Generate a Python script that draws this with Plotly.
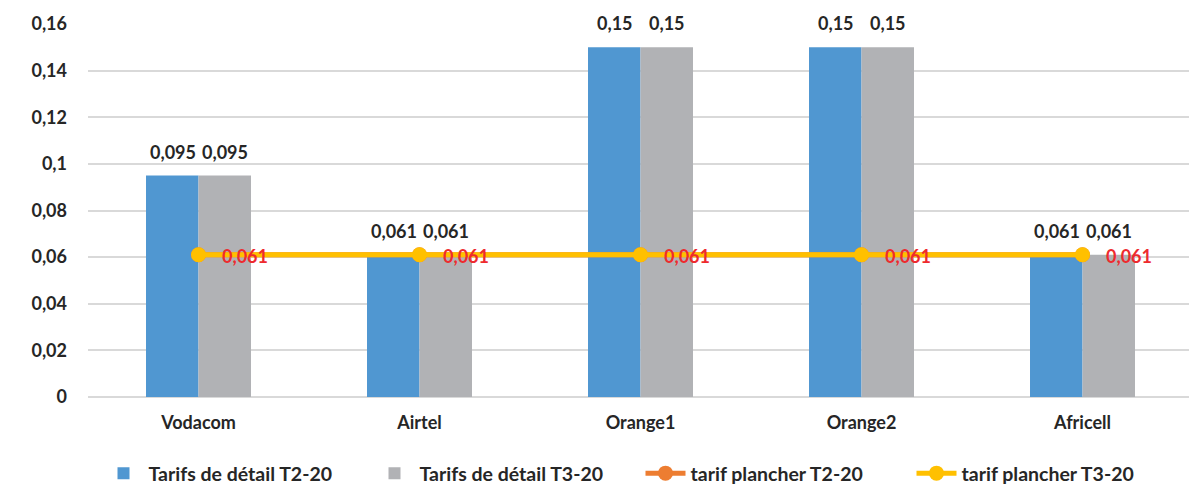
import plotly.graph_objects as go

categories = ["Vodacom", "Airtel", "Orange1", "Orange2", "Africell"]
detail_t2 = [0.095, 0.061, 0.15, 0.15, 0.061]
detail_t3 = [0.095, 0.061, 0.15, 0.15, 0.061]
plancher_t2 = [0.061, 0.061, 0.061, 0.061, 0.061]
plancher_t3 = [0.061, 0.061, 0.061, 0.061, 0.061]

FONT = "Lato"
DARK = "#262626"
RED = "#ee2a2e"

fig = go.Figure()
fig.add_trace(go.Bar(
    x=categories, y=detail_t2, name="Tarifs de détail T2-20",
    marker=dict(color="#5097d1", line=dict(width=0)),
))
fig.add_trace(go.Bar(
    x=categories, y=detail_t3, name="Tarifs de détail T3-20",
    marker=dict(color="#b1b2b5", line=dict(width=0)),
))
fig.add_trace(go.Scatter(
    x=categories, y=plancher_t2, name="tarif plancher T2-20",
    mode="lines+markers",
    line=dict(color="#ed7d31", width=5),
    marker=dict(color="#ed7d31", size=15),
    cliponaxis=False,
))
fig.add_trace(go.Scatter(
    x=categories, y=plancher_t3, name="tarif plancher T3-20",
    mode="lines+markers",
    line=dict(color="#ffc000", width=5),
    marker=dict(color="#ffc000", size=15),
    cliponaxis=False,
))

label_font = dict(family=FONT, size=18, color=DARK, weight="bold")
for cat, v in zip(categories, detail_t2):
    fig.add_annotation(x=cat, y=v, text=str(v).replace(".", ","), showarrow=False,
                       xshift=-26, yshift=11, yanchor="bottom", font=label_font)
for cat, v in zip(categories, detail_t3):
    fig.add_annotation(x=cat, y=v, text=str(v).replace(".", ","), showarrow=False,
                       xshift=26, yshift=11, yanchor="bottom", font=label_font)
for cat, v in zip(categories, plancher_t3):
    fig.add_annotation(x=cat, y=v, text=str(v).replace(".", ","), showarrow=False,
                       xshift=21, xanchor="left", yanchor="middle", yshift=-1,
                       font=dict(family=FONT, size=18, color=RED, weight="bold"))

fig.update_layout(
    width=1197, height=500,
    margin=dict(l=80, r=12, t=16, b=111),
    paper_bgcolor="white", plot_bgcolor="white",
    separators=", ",
    barmode="group", bargap=0.525, bargroupgap=0,
    font=dict(family=FONT, size=16, color=DARK),
    showlegend=True,
    legend=dict(
        orientation="h", x=0.5, xanchor="center", y=-0.205, yanchor="middle",
        font=dict(family=FONT, size=19.5, color=DARK, weight="bold"),
        itemwidth=40, traceorder="normal",
        entrywidth=216, entrywidthmode="pixels",
    ),
    xaxis=dict(
        showgrid=False, showline=False, ticks="", automargin=False,
        tickfont=dict(family=FONT, size=18, color=DARK, weight="bold"),
        ticklabelstandoff=13,
    ),
    yaxis=dict(
        range=[0, 0.16], dtick=0.02, showgrid=True, gridcolor="#d9d9d9", gridwidth=2,
        zeroline=True, zerolinecolor="#d9d9d9", zerolinewidth=2,
        showline=False, ticks="", ticklen=0, automargin=False,
        tickfont=dict(family=FONT, size=18, color=DARK, weight="bold"),
        ticklabelstandoff=20,
    ),
)

fig.write_html("out.html")
